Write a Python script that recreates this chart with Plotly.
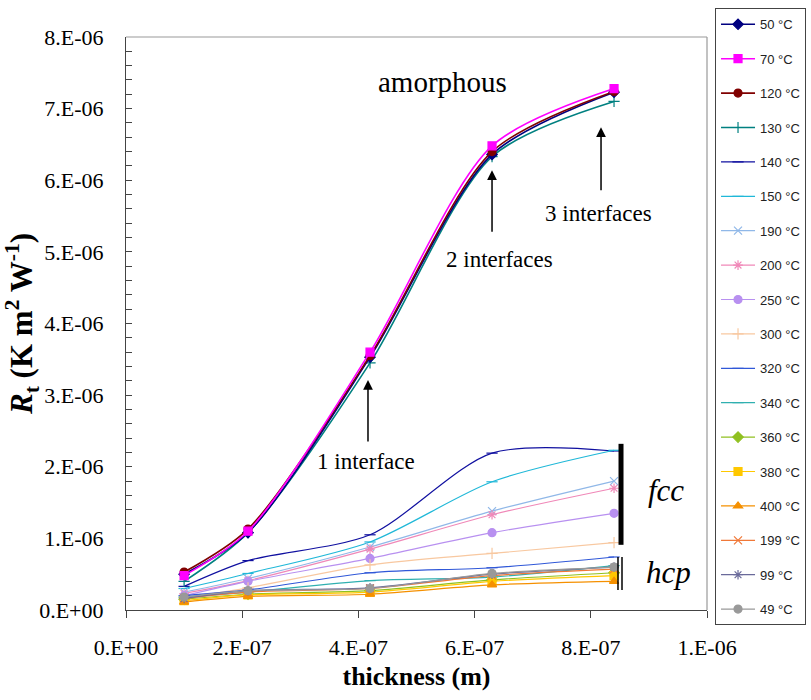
import plotly.graph_objects as go

thickness = [1.0e-7, 2.1e-7, 4.2e-7, 6.3e-7, 8.4e-7]

names = ["50 °C", "70 °C", "120 °C", "130 °C", "140 °C", "150 °C", "190 °C", "200 °C",
         "250 °C", "300 °C", "320 °C", "340 °C", "360 °C", "380 °C", "400 °C",
         "199 °C", "99 °C", "49 °C"]

# values in units of 1e-6 K m2 W-1
r_50 = [0.50, 1.08, 3.53, 6.36, 7.23]
r_70 = [0.48, 1.10, 3.60, 6.48, 7.28]
r_120 = [0.53, 1.13, 3.55, 6.40, 7.24]
r_130 = [0.40, 1.08, 3.45, 6.33, 7.10]
r_140 = [0.33, 0.69, 1.05, 2.19, 2.22]
r_150 = [0.30, 0.51, 0.95, 1.79, 2.23]
r_190 = [0.25, 0.44, 0.88, 1.38, 1.80]
r_200 = [0.23, 0.41, 0.85, 1.33, 1.70]
r_250 = [0.20, 0.40, 0.72, 1.08, 1.35]
r_300 = [0.17, 0.31, 0.63, 0.79, 0.94]
r_320 = [0.20, 0.28, 0.52, 0.59, 0.74]
r_340 = [0.18, 0.25, 0.41, 0.46, 0.62]
r_360 = [0.15, 0.22, 0.27, 0.42, 0.52]
r_380 = [0.13, 0.21, 0.25, 0.40, 0.48]
r_400 = [0.11, 0.19, 0.22, 0.35, 0.40]
r_199 = [0.16, 0.25, 0.30, 0.48, 0.57]
r_99 = [0.16, 0.27, 0.31, 0.50, 0.60]
r_49 = [0.18, 0.27, 0.30, 0.51, 0.60]

series = [r_50, r_70, r_120, r_130, r_140, r_150, r_190, r_200, r_250, r_300,
          r_320, r_340, r_360, r_380, r_400, r_199, r_99, r_49]

colors = ["#000080", "#FF00FF", "#800000", "#008080", "#1010A0", "#20B8D8",
          "#90B8E8", "#F088B8", "#B890F0", "#F8C8A0", "#3058D8", "#30B0B0",
          "#90C020", "#FFC800", "#F59000", "#F07838", "#6A6A9A", "#999999"]
symbols = ["diamond", "square", "circle", "cross-thin", "line-ew", "line-ew",
           "x-thin", "asterisk", "circle", "cross-thin", "line-ew", "line-ew",
           "diamond", "square", "triangle-up", "x-thin", "asterisk", "circle"]

xtick_vals = [0, 2e-7, 4e-7, 6e-7, 8e-7, 1e-6]
xtick_text = ["0.E+00", "2.E-07", "4.E-07", "6.E-07", "8.E-07", "1.E-06"]
ytick_vals = [0, 1e-6, 2e-6, 3e-6, 4e-6, 5e-6, 6e-6, 7e-6, 8e-6]
ytick_text = ["0.E+00", "1.E-06", "2.E-06", "3.E-06", "4.E-06", "5.E-06", "6.E-06", "7.E-06", "8.E-06"]

fig = go.Figure()
order = list(range(4, 18)) + [3, 0, 2, 1]
for i in order:
    amorph = i < 4
    fig.add_trace(go.Scatter(
        x=thickness, y=[v * 1e-6 for v in series[i]], name=names[i],
        mode="lines+markers", line=dict(color=colors[i], width=1.6 if amorph else 1.2, shape="spline", smoothing=0.8),
        marker=dict(symbol=symbols[i], size=8, color=colors[i],
                    line=dict(color=colors[i], width=1.2)),
        legendgroup=names[i], legendrank=i + 1,
    ))

serif = "Liberation Serif, Times New Roman, serif"
fig.update_layout(
    width=811, height=700,
    margin=dict(l=126, r=104, t=37, b=90, autoexpand=False),
    paper_bgcolor="white", plot_bgcolor="white",
    font=dict(family=serif, color="black"),
    showlegend=True,
    legend=dict(x=1.0138, y=1.05, xanchor="left", yanchor="top",
                font=dict(family="Liberation Sans, Arial, sans-serif", size=13, color="#222"),
                bordercolor="#444", borderwidth=1, tracegroupgap=14.5,
                itemwidth=34, bgcolor="white", maxheight=695),
    xaxis=dict(range=[0, 1e-6], tickvals=xtick_vals, ticktext=xtick_text,
               ticks="outside", ticklen=7, tickcolor="#444", showgrid=False, zeroline=False,
               showline=True, linecolor="#444", linewidth=1.2,
               tickfont=dict(size=22, family=serif), ticklabelstandoff=10,
               title=dict(text="<b>thickness (m)</b>", font=dict(size=26, family=serif), standoff=8)),
    yaxis=dict(range=[0, 8e-6], tickvals=ytick_vals, ticktext=ytick_text,
               ticks="inside", ticklen=6, tickcolor="#444", showgrid=False, zeroline=False,
               showline=True, linecolor="#444", linewidth=1.2,
               minor=dict(dtick=0.2e-6, ticks="inside", ticklen=6, tickcolor="#444"),
               tickfont=dict(size=22, family=serif), ticklabelstandoff=17,
               title=dict(text="<b><i>R</i><sub>t</sub> (K m<sup>2</sup> W<sup>-1</sup>)</b>",
                          font=dict(size=31, family=serif), standoff=4)),
)

# frame top/right
fig.add_shape(type="line", xref="paper", yref="paper", x0=0, x1=1, y0=1, y1=1, line=dict(color="#999", width=1.2))
fig.add_shape(type="line", xref="paper", yref="paper", x0=1, x1=1, y0=0, y1=1, line=dict(color="#999", width=1.2))

# fcc / hcp markers
fig.add_shape(type="line", xref="x", yref="y", x0=0.8520e-6, x1=0.8520e-6, y0=0.91e-6, y1=2.32e-6,
              line=dict(color="black", width=5))
fig.add_shape(type="line", xref="x", yref="y", x0=0.8468e-6, x1=0.8468e-6, y0=0.28e-6, y1=0.74e-6,
              line=dict(color="black", width=1.5))
fig.add_shape(type="line", xref="x", yref="y", x0=0.8537e-6, x1=0.8537e-6, y0=0.28e-6, y1=0.74e-6,
              line=dict(color="black", width=1.5))

ann_font = dict(family=serif, color="black")
fig.add_annotation(x=0.544e-6, y=7.37e-6, text="amorphous", showarrow=False, font=dict(size=29, **ann_font))
fig.add_annotation(x=0.413e-6, y=2.07e-6, text="1 interface", showarrow=False, font=dict(size=23, **ann_font))
fig.add_annotation(x=0.642e-6, y=4.89e-6, text="2 interfaces", showarrow=False, font=dict(size=23, **ann_font))
fig.add_annotation(x=0.814e-6, y=5.54e-6, text="3 interfaces", showarrow=False, font=dict(size=23, **ann_font))
fig.add_annotation(x=0.930e-6, y=1.675e-6, text="<i>fcc</i>", showarrow=False, font=dict(size=31, **ann_font))
fig.add_annotation(x=0.934e-6, y=0.53e-6, text="<i>hcp</i>", showarrow=False, font=dict(size=31, **ann_font))

for ax_, yh, yt in [(0.4165e-6, 3.21e-6, 2.33e-6), (0.630e-6, 6.14e-6, 5.26e-6), (0.8176e-6, 6.74e-6, 5.84e-6)]:
    fig.add_annotation(x=ax_, y=yh, ax=ax_, ay=yt, xref="x", yref="y", axref="x", ayref="y",
                       text="", showarrow=True, arrowhead=2, arrowsize=1.3, arrowwidth=1.5, arrowcolor="black")

fig.write_html("out.html")
